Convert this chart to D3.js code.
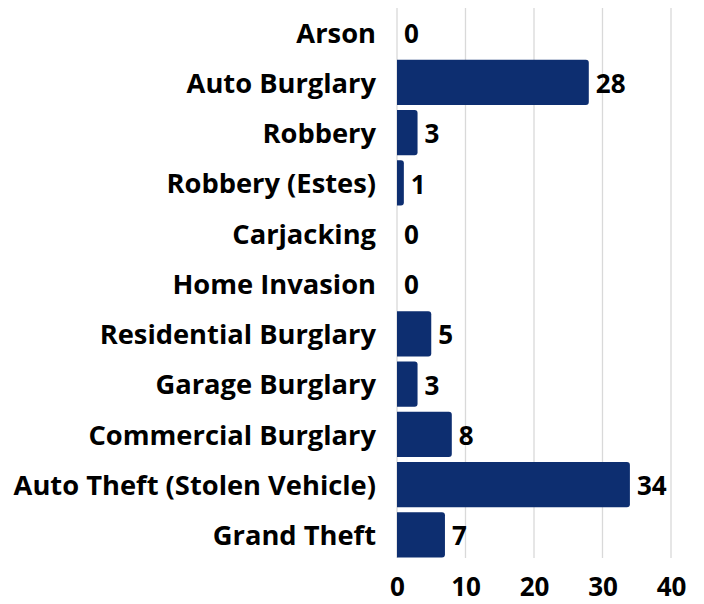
<!DOCTYPE html>
<html><head><meta charset="utf-8">
<script src="https://cdn.jsdelivr.net/npm/d3@7"></script>
<style>body{margin:0;background:#fff}svg{display:block;font-family:"Open Sans",sans-serif;font-weight:700}</style>
</head><body>
<script>
const categories = ["Arson","Auto Burglary","Robbery","Robbery (Estes)","Carjacking","Home Invasion","Residential Burglary","Garage Burglary","Commercial Burglary","Auto Theft (Stolen Vehicle)","Grand Theft"];
const values = [0,28,3,1,0,0,5,3,8,34,7];
const ticks = [0,10,20,30,40];

const W=704,H=604;
const svg=d3.select("body").append("svg").attr("width",W).attr("height",H);
const x=d3.scaleLinear().domain([0,40]).range([397,671]);
const y=d3.scaleBand().domain(categories).range([7,560]).paddingInner(0.1).paddingOuter(0.05);

svg.append("g").selectAll("line").data(ticks).join("line")
  .attr("x1",d=>x(d)).attr("x2",d=>x(d)).attr("y1",8).attr("y2",558)
  .attr("stroke","#d9d9d9").attr("stroke-width",1.3);

const xa=svg.append("g").attr("transform","translate(0,558)")
  .call(d3.axisBottom(x).tickValues(ticks).tickSize(0).tickPadding(20));
xa.select(".domain").remove();
xa.selectAll("text").attr("font-size",26).attr("font-family","Open Sans").attr("font-weight",700).attr("fill","#000");

const ya=svg.append("g").attr("transform","translate(397,0)")
  .call(d3.axisLeft(y).tickSize(0).tickPadding(21));
ya.select(".domain").remove();
ya.selectAll("text").attr("font-size",27.3).attr("dy","0.38em").attr("font-family","Open Sans").attr("font-weight",700).attr("fill","#000");

svg.append("g").selectAll("path").data(values.map((v,i)=>({c:categories[i],v}))).join("path")
  .filter(d=>d.v>0)
  .attr("d",d=>{
    const x0=x(0),x1=x(d.v),y0=y(d.c),h=y.bandwidth(),r=Math.min(3,(x1-x0)/2);
    return `M${x0},${y0}H${x1-r}Q${x1},${y0} ${x1},${y0+r}V${y0+h-r}Q${x1},${y0+h} ${x1-r},${y0+h}H${x0}Z`;
  })
  .attr("fill","#0d2e70");

svg.append("g").selectAll("text").data(values.map((v,i)=>({c:categories[i],v}))).join("text")
  .attr("x",d=>x(d.v)+7).attr("y",d=>y(d.c)+y.bandwidth()/2+1.5).attr("dy","0.35em")
  .attr("font-size",26).attr("fill","#000").text(d=>d.v);
</script>
</body></html>
